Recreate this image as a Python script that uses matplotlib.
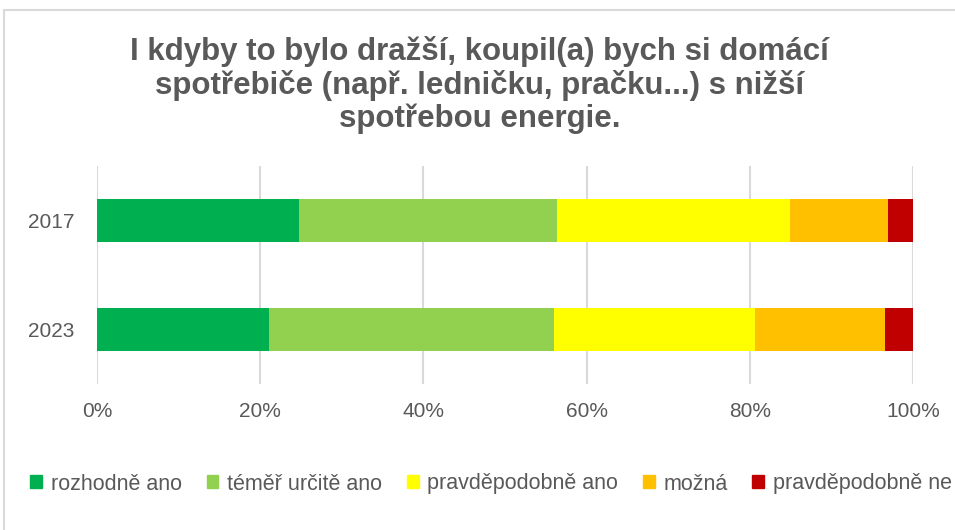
import matplotlib.pyplot as plt
from matplotlib.patches import Rectangle

plt.rcParams['font.family'] = ['Liberation Sans', 'DejaVu Sans']

# data
years = ['2017', '2023']
categories = ['rozhodně ano', 'téměř určitě ano', 'pravděpodobně ano', 'možná', 'pravděpodobně ne']
values = {
    '2017': [24.8, 31.6, 28.5, 12.0, 3.1],
    '2023': [21.1, 34.9, 24.6, 16.0, 3.4],
}
colors = ['#00B050', '#92D050', '#FFFF00', '#FFC000', '#C00000']

title = 'I kdyby to bylo dražší, koupil(a) bych si domácí\nspotřebiče (např. ledničku, pračku...) s nižší\nspotřebou energie.'

fig = plt.figure(figsize=(9.55, 5.3), dpi=100)
# outer chart frame (cut off on the right and bottom like the original)
fig.patches.append(Rectangle((4 / 955, -0.1), 1.1, (530 - 10) / 530 + 0.1, transform=fig.transFigure,
                             facecolor='none', edgecolor='#D9D9D9', linewidth=1.5, zorder=-1))

ax = fig.add_axes([97 / 955, 1 - 384 / 530, (913 - 97) / 955, (384 - 166) / 530])
ax.patch.set_alpha(0)

ypos = [1, 0]
for year, y in zip(years, ypos):
    left = 0
    for val, col in zip(values[year], colors):
        ax.barh(y, val, left=left, height=0.39, color=col, zorder=3)
        left += val

ax.set_xlim(0, 100)
ax.set_ylim(-0.5, 1.5)
ax.set_xticks(range(0, 101, 20))
ax.set_xticklabels([f'{t}%' for t in range(0, 101, 20)])
ax.set_yticks(ypos)
ax.set_yticklabels(years)
ax.grid(axis='x', color='#D9D9D9', linewidth=1.5, zorder=0)
for s in ax.spines.values():
    s.set_visible(False)
ax.tick_params(length=0, colors='#595959', labelsize=15)
ax.tick_params(axis='x', pad=13)
ax.tick_params(axis='y', pad=16)

fig.text(0.5 + 2 / 955, 1 - 85 / 530, title, ha='center', va='center', fontsize=22.5, fontweight='bold',
         color='#595959', linespacing=1.13)

handles = [Rectangle((0, 0), 1, 1, color=c) for c in colors]
fig.legend(handles, categories, loc='center', bbox_to_anchor=(491 / 955, 1 - 484 / 530), ncol=5,
           frameon=False, fontsize=15.5, labelcolor='#595959', handlelength=0.55, handleheight=0.55,
           handletextpad=0.4, columnspacing=1.15, borderpad=0, borderaxespad=0)

fig.savefig('out.png', dpi=100)
